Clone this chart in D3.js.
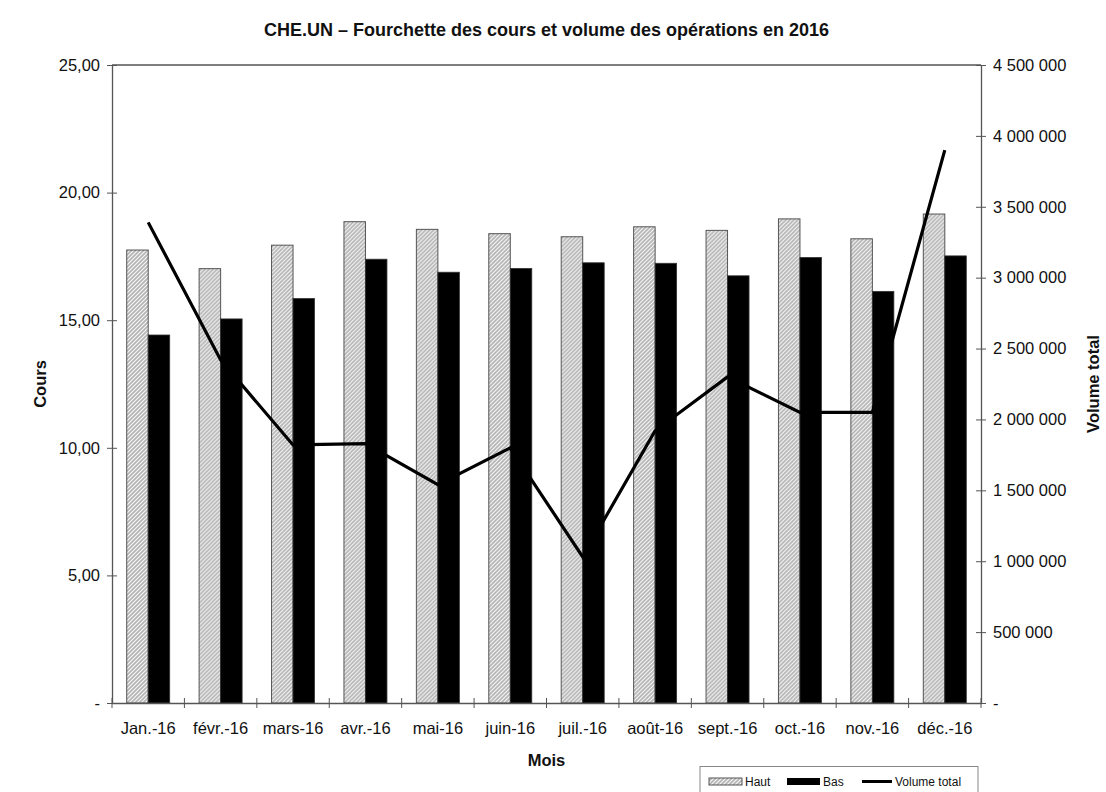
<!DOCTYPE html>
<html>
<head>
<meta charset="utf-8">
<script src="https://cdn.jsdelivr.net/npm/d3@7"></script>
<style>
  html, body { margin: 0; padding: 0; background: #fff; }
  svg { display: block; font-family: "Liberation Sans", Arial, sans-serif; }
</style>
</head>
<body>
<svg id="chart" width="1106" height="792"></svg>
<script>
// Monthly price range (high / low) and total traded volume for CHE.UN, 2016
const months = ["Jan.-16", "févr.-16", "mars-16", "avr.-16", "mai-16", "juin-16",
                "juil.-16", "août-16", "sept.-16", "oct.-16", "nov.-16", "déc.-16"];
const haut = [17.75, 17.02, 17.94, 18.86, 18.56, 18.39, 18.27, 18.66, 18.52, 18.97, 18.19, 19.16];
const bas  = [14.42, 15.05, 15.85, 17.39, 16.88, 17.03, 17.25, 17.23, 16.74, 17.46, 16.13, 17.52];
const volume = [3390000, 2420000, 1820000, 1830000, 1540000, 1800000,
                1030000, 1920000, 2300000, 2050000, 2050000, 3900000];
const coursTicks = [0, 5, 10, 15, 20, 25];
const volumeTicks = [0, 500000, 1000000, 1500000, 2000000, 2500000, 3000000, 3500000, 4000000, 4500000];
const seriesNames = ["Haut", "Bas"];

const svg = d3.select("#chart");
const M = { left: 112, right: 981, top: 65, bottom: 703 };
const FONT = "Liberation Sans, Arial, sans-serif";
const LABEL_SIZE = 16.5;

const fr = d3.formatLocale({ decimal: ",", thousands: " ", grouping: [3], currency: ["", " $"] });
const fmtCours = v => v === 0 ? "-" : fr.format(".2f")(v);
const fmtVol = v => v === 0 ? "-" : fr.format(",")(v);

const x = d3.scaleBand().domain(months).range([M.left, M.right]).padding(0);
const xs = d3.scaleBand().domain(seriesNames).range([0, x.bandwidth()])
  .paddingInner(0).paddingOuter(0.684);
const y = d3.scaleLinear().domain([0, 25]).range([M.bottom, M.top]);
const y2 = d3.scaleLinear().domain([0, 4500000]).range([M.bottom, M.top]);

// Hatched fill for the "Haut" bars
const defs = svg.append("defs");
const pat = defs.append("pattern").attr("id", "hatch")
  .attr("patternUnits", "userSpaceOnUse").attr("width", 4).attr("height", 4);
pat.append("rect").attr("width", 4).attr("height", 4).attr("fill", "#b4b4b4");
pat.append("path").attr("d", "M-1,1 L1,-1 M0,4 L4,0 M3,5 L5,3")
  .attr("stroke", "#f6f6f6").attr("stroke-width", 1.2);

// Title
svg.append("text").attr("x", (M.left + M.right) / 2).attr("y", 36)
  .attr("text-anchor", "middle").attr("font-weight", "bold").attr("font-size", 18)
  .attr("fill", "#111")
  .text("CHE.UN – Fourchette des cours et volume des opérations en 2016");

// Plot frame top
svg.append("line").attr("x1", M.left).attr("x2", M.right).attr("y1", M.top).attr("y2", M.top)
  .attr("stroke", "#555").attr("stroke-width", 1.3);

// Bars
const groups = svg.append("g").selectAll("g").data(months).join("g")
  .attr("transform", d => `translate(${x(d)},0)`);
groups.append("rect")
  .attr("x", xs("Haut")).attr("width", xs.bandwidth())
  .attr("y", (d, i) => y(haut[i])).attr("height", (d, i) => y(0) - y(haut[i]))
  .attr("fill", "url(#hatch)").attr("stroke", "#555").attr("stroke-width", 1);
groups.append("rect")
  .attr("x", xs("Bas")).attr("width", xs.bandwidth())
  .attr("y", (d, i) => y(bas[i])).attr("height", (d, i) => y(0) - y(bas[i]))
  .attr("fill", "#000").attr("stroke", "#333").attr("stroke-width", 0.8);

// Volume line
const line = d3.line().x((d, i) => x(months[i]) + x.bandwidth() / 2).y(d => y2(d));
svg.append("path").datum(volume).attr("d", line)
  .attr("fill", "none").attr("stroke", "#000").attr("stroke-width", 3.2)
  .attr("stroke-linejoin", "miter");

// Left axis
const axL = svg.append("g").attr("transform", `translate(${M.left},0)`)
  .call(d3.axisLeft(y).tickValues(coursTicks).tickFormat(fmtCours).tickSizeInner(5).tickSizeOuter(0).tickPadding(7));
axL.select(".domain").attr("stroke", "#555").attr("stroke-width", 1.3);
axL.selectAll(".tick line").attr("x2", 5).attr("x1", -5).attr("stroke", "#555");
axL.selectAll(".tick text").attr("font-size", LABEL_SIZE).attr("fill", "#111").attr("font-family", FONT);

// Right axis
const axR = svg.append("g").attr("transform", `translate(${M.right},0)`)
  .call(d3.axisRight(y2).tickValues(volumeTicks).tickFormat(fmtVol).tickSizeInner(5).tickSizeOuter(0).tickPadding(7));
axR.select(".domain").attr("stroke", "#555").attr("stroke-width", 1.3);
axR.selectAll(".tick line").attr("x1", -5).attr("x2", 5).attr("stroke", "#555");
axR.selectAll(".tick text").attr("font-size", LABEL_SIZE).attr("fill", "#111").attr("font-family", FONT);

// Bottom axis: ticks at month boundaries
const axB = svg.append("g").attr("transform", `translate(0,${M.bottom})`)
  .call(d3.axisBottom(x).tickSize(0).tickPadding(19));
axB.select(".domain").attr("stroke", "#555").attr("stroke-width", 1.3);
axB.selectAll(".tick text").attr("font-size", LABEL_SIZE).attr("fill", "#111").attr("font-family", FONT);
svg.append("g").selectAll("line").data(months.concat(["end"])).join("line")
  .attr("x1", (d, i) => M.left + i * x.step()).attr("x2", (d, i) => M.left + i * x.step())
  .attr("y1", M.bottom - 5).attr("y2", M.bottom + 5).attr("stroke", "#555");

// Axis titles
svg.append("text").attr("transform", `translate(46,${(M.top + M.bottom) / 2}) rotate(-90)`)
  .attr("text-anchor", "middle").attr("font-weight", "bold").attr("font-size", 16.5).attr("fill", "#111")
  .text("Cours");
svg.append("text").attr("transform", `translate(1099,${(M.top + M.bottom) / 2}) rotate(-90)`)
  .attr("text-anchor", "middle").attr("font-weight", "bold").attr("font-size", 16.5).attr("fill", "#111")
  .text("Volume total");
svg.append("text").attr("x", (M.left + M.right) / 2).attr("y", 766)
  .attr("text-anchor", "middle").attr("font-weight", "bold").attr("font-size", 16.5).attr("fill", "#111")
  .text("Mois");

// Legend
const lg = svg.append("g");
lg.append("rect").attr("x", 700).attr("y", 766.5).attr("width", 278).attr("height", 32)
  .attr("fill", "#fff").attr("stroke", "#888").attr("stroke-width", 1);
const lgItems = [
  { name: "Haut", x: 709, kind: "hatch" },
  { name: "Bas", x: 787, kind: "bar" },
  { name: "Volume total", x: 862, kind: "line" }
];
lgItems.forEach(it => {
  if (it.kind === "hatch") {
    lg.append("rect").attr("x", it.x).attr("y", 778).attr("width", 33).attr("height", 7)
      .attr("fill", "url(#hatch)").attr("stroke", "#555");
  } else if (it.kind === "bar") {
    lg.append("rect").attr("x", it.x).attr("y", 778).attr("width", 33).attr("height", 7).attr("fill", "#000");
  } else {
    lg.append("line").attr("x1", it.x).attr("x2", it.x + 30).attr("y1", 781.5).attr("y2", 781.5)
      .attr("stroke", "#000").attr("stroke-width", 3);
  }
  lg.append("text").attr("x", it.x + (it.kind === "line" ? 33 : 36)).attr("y", 786)
    .attr("font-size", 12).attr("fill", "#111").text(it.name);
});
</script>
</body>
</html>
